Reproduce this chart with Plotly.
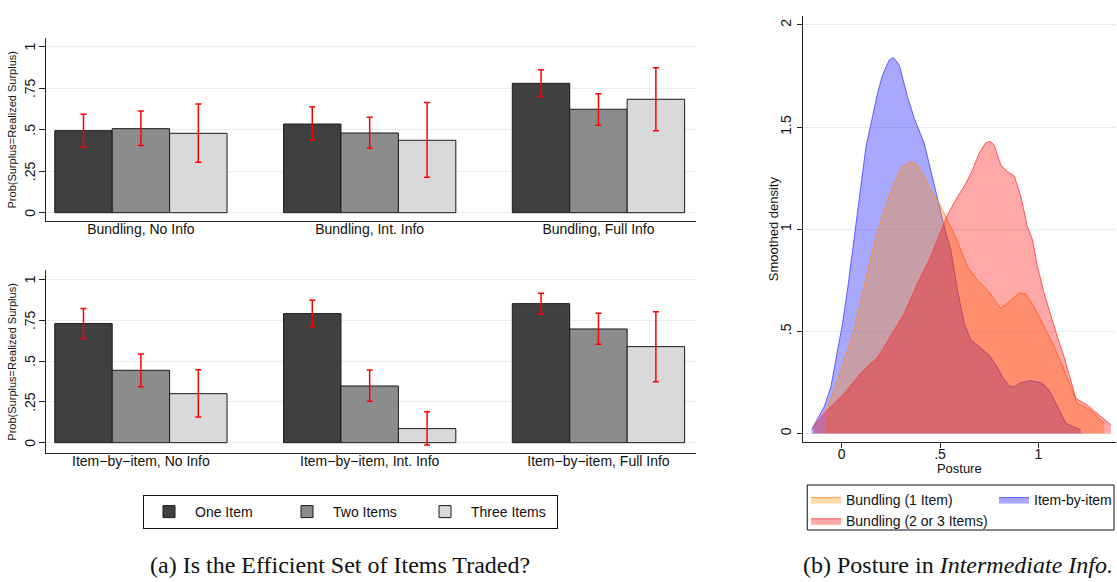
import plotly.graph_objects as go

# ---------------- data: panel (a) ----------------
series_names = ["One Item", "Two Items", "Three Items"]
series_colors = ["#404040", "#8c8c8c", "#d9d9d9"]

categories_top = ["Bundling, No Info", "Bundling, Int. Info", "Bundling, Full Info"]
categories_bottom = ["Item\u2212by\u2212item, No Info", "Item\u2212by\u2212item, Int. Info",
                     "Item\u2212by\u2212item, Full Info"]

one_top = [0.494, 0.534, 0.779]
one_top_lo = [0.394, 0.438, 0.699]
one_top_hi = [0.593, 0.637, 0.861]
two_top = [0.506, 0.480, 0.623]
two_top_lo = [0.404, 0.388, 0.526]
two_top_hi = [0.613, 0.575, 0.717]
three_top = [0.478, 0.436, 0.683]
three_top_lo = [0.304, 0.213, 0.494]
three_top_hi = [0.655, 0.663, 0.873]

one_bot = [0.729, 0.790, 0.851]
one_bot_lo = [0.637, 0.709, 0.788]
one_bot_hi = [0.821, 0.872, 0.915]
two_bot = [0.443, 0.347, 0.696]
two_bot_lo = [0.343, 0.253, 0.602]
two_bot_hi = [0.543, 0.445, 0.792]
three_bot = [0.300, 0.086, 0.588]
three_bot_lo = [0.157, -0.014, 0.373]
three_bot_hi = [0.447, 0.190, 0.802]

prob_ticks = [0, 0.25, 0.5, 0.75, 1]
prob_ticktext = ["0", ".25", ".5", ".75", "1"]
prob_title = "Prob(Surplus=Realized Surplus)"

# ---------------- data: panel (b) ----------------
item_x = [-0.152, -0.139, -0.088, -0.054, -0.020, 0.005, 0.030, 0.056, 0.098, 0.124, 0.157,
          0.183, 0.208, 0.242, 0.264, 0.293, 0.335, 0.369, 0.420, 0.445, 0.471, 0.505, 0.530,
          0.555, 0.589, 0.623, 0.657, 0.708, 0.750, 0.784, 0.817, 0.851, 0.877, 0.911, 0.961,
          1.020, 1.054, 1.080, 1.114, 1.139, 1.215]
item_y = [0.020, 0.042, 0.131, 0.229, 0.409, 0.539, 0.702, 0.898, 1.208, 1.404, 1.551,
          1.665, 1.755, 1.828, 1.840, 1.804, 1.649, 1.543, 1.420, 1.323, 1.208, 1.078, 0.980,
          0.899, 0.702, 0.539, 0.458, 0.417, 0.384, 0.335, 0.278, 0.232, 0.229, 0.249, 0.259,
          0.246, 0.213, 0.164, 0.099, 0.050, 0.017]

b1_x = [-0.084, -0.037, 0.014, 0.064, 0.098, 0.132, 0.166, 0.217, 0.268, 0.310, 0.352,
        0.378, 0.411, 0.454, 0.496, 0.530, 0.572, 0.589, 0.640, 0.690, 0.741, 0.809, 0.851,
        0.902, 0.936, 0.978, 1.029, 1.080, 1.130, 1.173, 1.198, 1.266, 1.334]
b1_y = [0.098, 0.213, 0.360, 0.507, 0.653, 0.800, 0.930, 1.094, 1.225, 1.306, 1.331,
        1.323, 1.274, 1.192, 1.127, 1.061, 0.980, 0.940, 0.817, 0.751, 0.702, 0.613, 0.645,
        0.689, 0.683, 0.621, 0.523, 0.425, 0.311, 0.213, 0.148, 0.115, 0.050]

b23_x = [-0.142, -0.088, 0.014, 0.098, 0.149, 0.175, 0.217, 0.268, 0.318, 0.352, 0.394,
         0.445, 0.487, 0.538, 0.589, 0.632, 0.665, 0.699, 0.733, 0.755, 0.775, 0.809, 0.843,
         0.877, 0.911, 0.944, 0.970, 0.995, 1.029, 1.063, 1.096, 1.130, 1.164, 1.190, 1.249,
         1.317, 1.368]
b23_y = [0.033, 0.099, 0.197, 0.295, 0.344, 0.363, 0.425, 0.507, 0.588, 0.662, 0.751,
         0.849, 0.947, 1.070, 1.159, 1.225, 1.290, 1.372, 1.424, 1.430, 1.412, 1.314, 1.282,
         1.261, 1.159, 1.012, 0.947, 0.817, 0.686, 0.572, 0.474, 0.376, 0.262, 0.172, 0.139,
         0.082, 0.042]

dens_ticks = [0, 0.5, 1, 1.5, 2]
dens_ticktext = ["0", ".5", "1", "1.5", "2"]
post_ticks = [0, 0.5, 1]
post_ticktext = ["0", ".5", "1"]

FONT = "Liberation Sans, Arial, sans-serif"
SERIF = "Liberation Serif, Times New Roman, serif"
GRID = "#e6eef0"
AX = "#222222"

fig = go.Figure()

panels = [
    ("x", "y", categories_top,
     [(one_top, one_top_lo, one_top_hi), (two_top, two_top_lo, two_top_hi),
      (three_top, three_top_lo, three_top_hi)], True),
    ("x2", "y2", categories_bottom,
     [(one_bot, one_bot_lo, one_bot_hi), (two_bot, two_bot_lo, two_bot_hi),
      (three_bot, three_bot_lo, three_bot_hi)], False),
]
for xa, ya, cats, sers, show in panels:
    for i, (vals, lo, hi) in enumerate(sers):
        fig.add_trace(go.Bar(
            x=cats, y=vals, name=series_names[i], xaxis=xa, yaxis=ya,
            offsetgroup=str(i), legendgroup=series_names[i], showlegend=show,
            marker=dict(color=series_colors[i], line=dict(color="#1a1a1a", width=1)),
            error_y=dict(type="data", symmetric=False,
                         array=[h - v for h, v in zip(hi, vals)],
                         arrayminus=[v - l for v, l in zip(vals, lo)],
                         color="#ff0000", thickness=1.5, width=3),
            legend="legend",
        ))

# densities (blue first, then orange, then red on top)
fig.add_trace(go.Scatter(x=item_x, y=item_y, name="Item-by-item", mode="lines",
                         fill="tozeroy", fillcolor="rgba(0,0,255,0.34)",
                         line=dict(color="rgba(70,70,255,0.85)", width=1),
                         xaxis="x3", yaxis="y3", legend="legend3"))
fig.add_trace(go.Scatter(x=b1_x, y=b1_y, name="Bundling (1 Item)", mode="lines",
                         fill="tozeroy", fillcolor="rgba(255,140,0,0.34)",
                         line=dict(color="rgba(255,140,40,0.85)", width=1),
                         xaxis="x3", yaxis="y3", legend="legend2"))
fig.add_trace(go.Scatter(x=b23_x, y=b23_y, name="Bundling (2 or 3 Items)", mode="lines",
                         fill="tozeroy", fillcolor="rgba(255,0,0,0.34)",
                         line=dict(color="rgba(255,60,60,0.85)", width=1),
                         xaxis="x3", yaxis="y3", legend="legend2"))

W, H = 1117, 582


def px(x):
    return x / W


def py(y):
    return 1 - y / H


xcat = dict(range=[-0.415, 2.428], showline=True, linecolor=AX, linewidth=1, ticks="",
            showgrid=False, zeroline=False, tickfont=dict(size=14, color="#111"),
            ticklabelstandoff=-5)
yprob = dict(showline=True, linecolor=AX, linewidth=1, ticks="outside", ticklen=6,
             tickcolor=AX, tickvals=prob_ticks, showticklabels=False,
             showgrid=True, gridcolor=GRID, gridwidth=1, zeroline=False)

# rotated tick labels and titles for the left panels, placed on the y scales
left_annots = []
for yref, (top, bot) in (("y", (38, 221)), ("y2", (270, 453.3))):
    for v, t in zip(prob_ticks, prob_ticktext):
        left_annots.append(dict(text=t, xref="paper", yref=yref, x=px(30), y=v,
                                xanchor="center", yanchor="middle", textangle=-90,
                                showarrow=False, font=dict(size=14, color="#111")))
    left_annots.append(dict(text=prob_title, xref="paper", yref="paper", x=px(12),
                            y=py((top + bot) / 2), xanchor="center", yanchor="middle",
                            textangle=-90, showarrow=False, font=dict(size=11, color="#111")))

fig.update_layout(
    width=W, height=H,
    margin=dict(l=0, r=0, t=0, b=0),
    paper_bgcolor="white", plot_bgcolor="white",
    font=dict(family=FONT, size=14, color="#111"),
    barmode="group", bargap=0.247, bargroupgap=0,
    xaxis=dict(domain=[px(46), px(697)], anchor="y", **xcat),
    yaxis=dict(domain=[py(221), py(38)], anchor="x", range=[-0.05, 1.052], **yprob),
    xaxis2=dict(domain=[px(46), px(697)], anchor="y2", **xcat),
    yaxis2=dict(domain=[py(453.3), py(270)], anchor="x2", range=[-0.065, 1.057], **yprob),
    xaxis3=dict(domain=[px(803.3), 1.0], anchor="y3", range=[-0.198, 1.394],
                showline=True, linecolor=AX, linewidth=1, ticks="outside", ticklen=5,
                tickcolor=AX, tickvals=post_ticks, ticktext=post_ticktext, showgrid=False,
                zeroline=False, tickfont=dict(size=14, color="#111"), ticklabelstandoff=-6,
                title=dict(text="Posture", font=dict(size=13, color="#111"), standoff=0)),
    yaxis3=dict(domain=[py(441.7), py(16)], anchor="x3", range=[-0.04, 2.044],
                showline=True, linecolor=AX, linewidth=1, ticks="outside", ticklen=5,
                tickcolor=AX, tickvals=dens_ticks, ticktext=dens_ticktext, tickangle=-90,
                showgrid=True, gridcolor=GRID, gridwidth=1, zeroline=False,
                tickfont=dict(size=14, color="#111")),
    legend=dict(orientation="h", x=px(143), y=py(495), xanchor="left", yanchor="top",
                bordercolor="#111", borderwidth=1, bgcolor="white",
                itemwidth=42, entrywidth=81, font=dict(size=14, color="#111"),
                itemclick=False),
    legend2=dict(orientation="v", x=px(806), y=py(484), xanchor="left", yanchor="top",
                 bgcolor="rgba(0,0,0,0)", borderwidth=0, font=dict(size=14, color="#111"),
                 tracegroupgap=0),
    legend3=dict(orientation="v", x=px(995), y=py(484), xanchor="left", yanchor="top",
                 bgcolor="rgba(0,0,0,0)", borderwidth=0, font=dict(size=14, color="#111")),
    shapes=[dict(type="rect", xref="paper", yref="paper", x0=px(808), x1=px(1115),
                 y0=py(530), y1=py(485), line=dict(color="#111", width=1),
                 fillcolor="rgba(0,0,0,0)", layer="below")],
    annotations=left_annots + [
        dict(text="Smoothed density", xref="paper", yref="paper", x=px(775),
             y=py((16 + 441.7) / 2), xanchor="center", yanchor="middle", textangle=-90,
             showarrow=False, font=dict(size=13, color="#111")),
        dict(text="(a) Is the Efficient Set of Items Traded?", xref="paper", yref="paper",
             x=px(340), y=py(565), xanchor="center", yanchor="middle", showarrow=False,
             font=dict(family=SERIF, size=24, color="#111")),
        dict(text="(b) Posture in <i>Intermediate Info.</i>", xref="paper", yref="paper",
             x=px(959), y=py(565), xanchor="center", yanchor="middle", showarrow=False,
             font=dict(family=SERIF, size=24, color="#111")),
    ],
)

fig.write_html("out.html")
